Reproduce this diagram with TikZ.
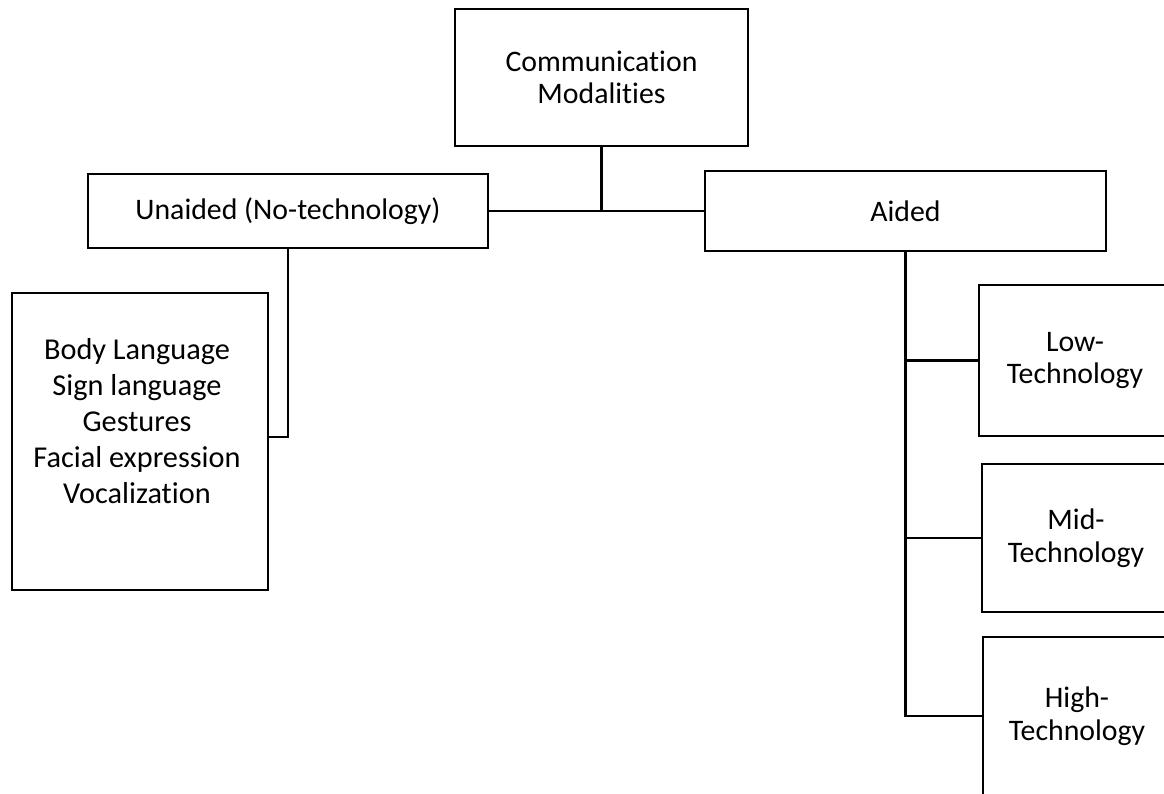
\documentclass[tikz,border=0pt]{standalone}
\usepackage{fontspec}
\setmainfont{Carlito}[Ligatures=NoCommon]
\begin{document}
\begin{tikzpicture}[x=1pt,y=-1pt,
  box/.style={draw=black, line width=2.6pt, inner sep=0pt, align=center,
    font=\fontsize{29.8}{32.5}\selectfont},
  link/.style={draw=black, line width=2.6pt},
  txt/.style={inner sep=0pt, align=center, font=\fontsize{30.3}{36.2}\selectfont}]
\useasboundingbox (0,0) rectangle (1164,794);
\clip (0,0) rectangle (1164,794);
\fill[white] (0,0) rectangle (1164,794);
% boxes
\node[box, minimum width=293pt, minimum height=137pt] (comm) at (601.5,77.5) {Communication\\Modalities};
\node[box, minimum width=400pt, minimum height=74pt] (unaided) at (288,211) {Unaided (No-technology)};
\node[box, minimum width=401pt, minimum height=80pt] (aided) at (905.5,211) {Aided};
\node[box, minimum width=256pt, minimum height=297pt] (body) at (140,441.5) {};
\node[txt] (bodytext) at (137,421) {Body Language\\Sign language\\Gestures\\Facial expression\\Vocalization};
\node[box, minimum width=192pt, minimum height=151pt] (low) at (1075,360.5) {Low-\\Technology};
\node[box, minimum width=188pt, minimum height=148pt] (mid) at (1076,538) {Mid-\\Technology};
\node[box, minimum width=188pt, minimum height=158pt] (high) at (1077,716) {High-\\Technology};
% connectors
\coordinate (j1) at (comm.south |- unaided.east);
\draw[link] (comm.south) -- (j1);
\draw[link] (unaided.east) -- (aided.west);
\draw[link] (unaided.south) |- ([yshift=4.5pt]body.east);
\draw[link] (aided.south) |- (high.west);
\draw[link] (aided.south |- low.west) -- (low.west);
\draw[link] (aided.south |- mid.west) -- (mid.west);
\end{tikzpicture}
\end{document}
